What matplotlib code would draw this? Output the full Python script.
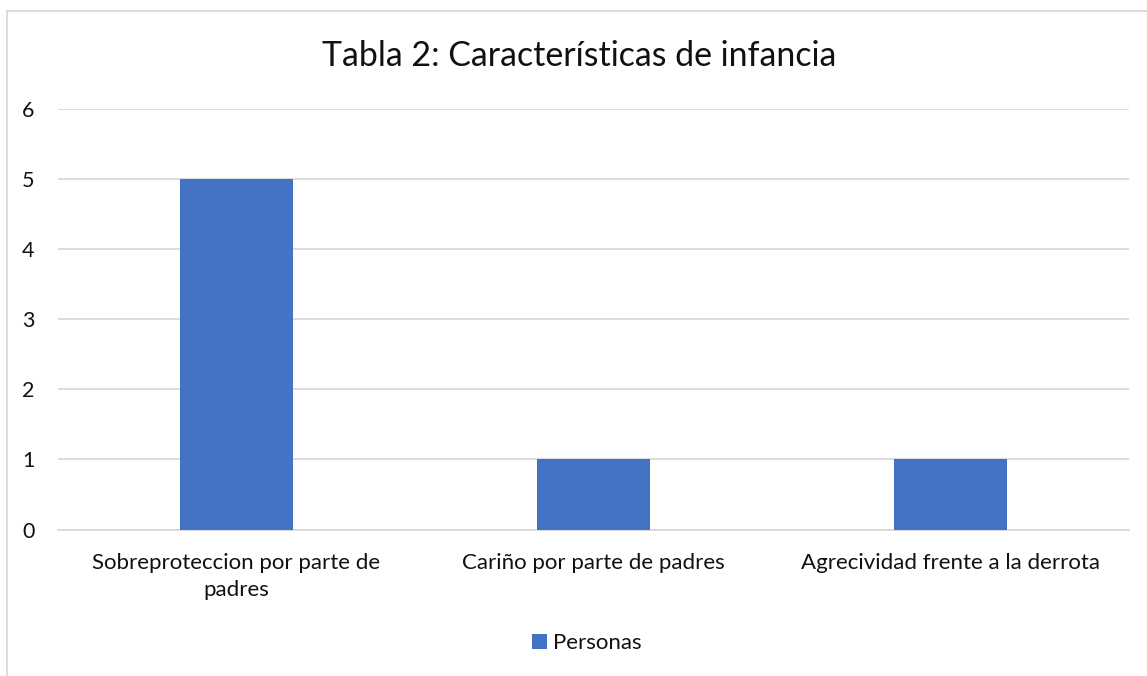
import matplotlib.pyplot as plt
from matplotlib.lines import Line2D

plt.rcParams['font.family'] = ['Lato', 'DejaVu Sans']

categories = ['Sobreproteccion por parte de\npadres', 'Cariño por parte de padres',
              'Agrecividad frente a la derrota']
personas = [5, 1, 1]
y_ticks = [0, 1, 2, 3, 4, 5, 6]

text_color = '#111111'
bar_color = '#4472C4'
grid_color = '#D9D9D9'

W, H = 1147, 676
fig = plt.figure(figsize=(W / 100, H / 100), dpi=100)
# plot area: x 58..1129 px, y 109..529 px
ax = fig.add_axes([58 / W, 1 - 529.5 / H, (1129 - 58) / W, (529.5 - 109) / H])

x = range(len(categories))
ax.bar(x, personas, width=0.314, color=bar_color, zorder=3, label='Personas')

ax.set_xlim(-0.5, len(categories) - 0.5)
ax.set_ylim(0, 6)
ax.set_yticks(y_ticks)
ax.set_xticks(list(x))
ax.set_xticklabels(categories, fontsize=16, color=text_color, linespacing=1.4)
ax.tick_params(axis='y', labelsize=15.5, labelcolor=text_color, length=0, pad=17)
ax.tick_params(axis='x', length=0, pad=17)
ax.yaxis.grid(True, color=grid_color, linewidth=1.3)
ax.set_axisbelow(True)
for side in ['top', 'right', 'left']:
    ax.spines[side].set_visible(False)
ax.spines['bottom'].set_color(grid_color)
ax.spines['bottom'].set_linewidth(1.3)

fig.text(0.5 * (322 + 836) / W, 1 - 56 / H, 'Tabla 2: Características de infancia',
         fontsize=24.4, color=text_color, ha='center', va='center')

fig.legend(loc='center', bbox_to_anchor=(587 / W, 1 - 643 / H), frameon=False, fontsize=16,
           labelcolor=text_color, handlelength=0.65, handleheight=0.65, handletextpad=0.3)

# chart border (only left and top edges are inside the crop)
fig.add_artist(Line2D([6.5 / W, 6.5 / W], [0, 1 - 10.5 / H], transform=fig.transFigure,
                      color=grid_color, linewidth=1.3))
fig.add_artist(Line2D([6.5 / W, 1], [1 - 10.5 / H, 1 - 10.5 / H], transform=fig.transFigure,
                      color=grid_color, linewidth=1.3))

fig.savefig('out.png', dpi=100)
